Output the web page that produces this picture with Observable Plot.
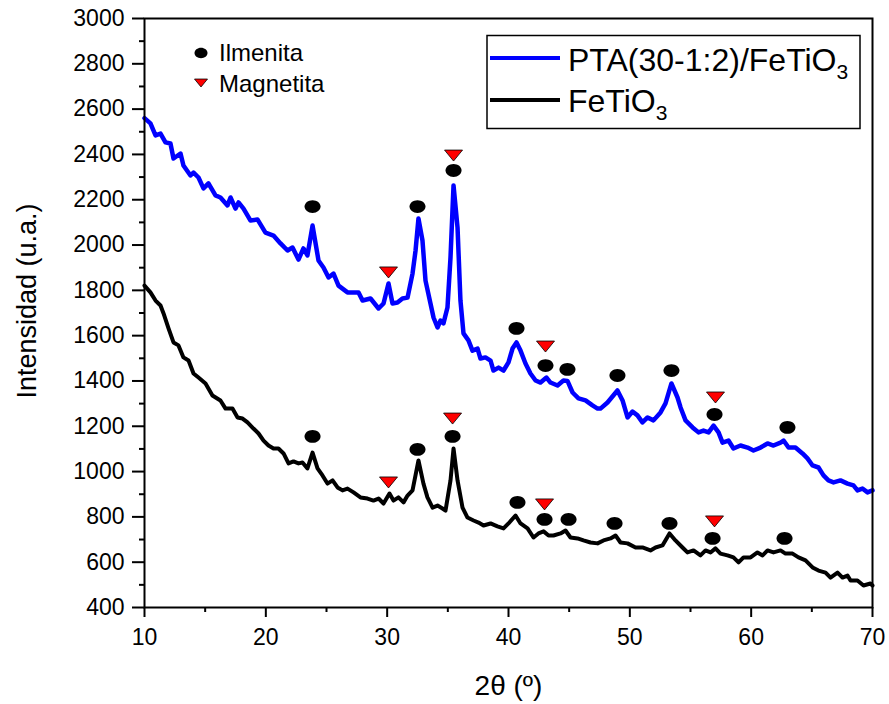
<!DOCTYPE html>
<html>
<head>
<meta charset="utf-8">
<script src="https://cdn.jsdelivr.net/npm/d3@7"></script>
<script src="https://cdn.jsdelivr.net/npm/@observablehq/plot@0.6"></script>
<style>
  html, body { margin: 0; padding: 0; background: #fff; }
  #wrap { position: relative; width: 889px; height: 704px; font-family: "Liberation Sans", Arial, sans-serif; }
  #legend { position: absolute; left: 0; top: 0; pointer-events: none; }
</style>
</head>
<body>
<div id="wrap"></div>
<script>
// ---- Data ----
const blueX = [10.0,10.49,10.91,11.32,11.73,12.14,12.39,12.97,13.21,13.79,14.04,14.45,14.86,15.27,15.85,16.26,16.84,17.09,17.50,17.75,18.16,18.74,19.31,19.97,20.63,21.21,21.79,22.20,22.69,23.10,23.43,23.85,24.34,24.75,25.17,25.58,25.99,26.73,27.64,27.97,28.63,29.29,29.70,30.11,30.44,30.85,31.26,31.68,32.09,32.34,32.58,32.91,33.16,33.57,33.82,34.15,34.40,34.64,34.97,35.22,35.47,35.80,36.04,36.29,36.70,37.03,37.45,37.69,38.10,38.52,38.76,39.18,39.59,40.00,40.33,40.66,40.99,41.40,41.81,42.23,42.64,43.13,43.46,44.04,44.53,44.86,45.28,45.77,46.35,46.92,47.34,47.58,48.16,48.98,49.40,49.81,50.22,50.63,51.04,51.46,51.95,52.53,52.94,53.43,53.93,54.18,54.59,55.17,55.66,56.07,56.49,56.90,57.31,57.64,58.13,58.54,59.12,59.70,60.19,60.77,61.35,61.84,62.42,62.67,63.08,63.65,64.23,64.64,65.06,65.55,65.96,66.37,66.79,67.36,67.94,68.43,68.76,69.17,69.59,70.0];
const blueY = [2560,2537,2484,2492,2453,2448,2382,2404,2351,2307,2320,2298,2250,2272,2219,2210,2175,2210,2161,2188,2161,2108,2113,2055,2042,2007,1976,1989,1936,1985,1954,2086,1932,1901,1857,1874,1821,1791,1791,1755,1764,1720,1742,1830,1742,1746,1764,1768,1874,1976,2117,2020,1843,1742,1680,1636,1667,1654,1724,1945,2263,2077,1755,1610,1579,1534,1543,1499,1504,1490,1446,1459,1446,1482,1543,1570,1534,1477,1433,1402,1393,1415,1393,1380,1402,1400,1349,1323,1314,1292,1278,1278,1305,1358,1314,1239,1265,1248,1217,1239,1226,1261,1301,1389,1327,1283,1226,1195,1173,1181,1173,1203,1173,1128,1137,1102,1115,1106,1093,1106,1124,1115,1128,1137,1106,1106,1080,1058,1027,1018,983,961,952,961,947,939,917,925,908,917];

const blackX = [10.0,10.49,10.91,11.32,11.57,11.98,12.39,12.80,13.21,13.63,14.04,14.45,15.03,15.60,16.26,16.68,17.25,17.67,18.08,18.49,18.98,19.40,19.81,20.22,20.63,21.04,21.46,21.87,22.28,22.69,23.02,23.43,23.85,24.26,24.67,25.08,25.50,25.91,26.32,26.73,27.23,27.80,28.38,28.87,29.29,29.70,30.19,30.52,30.93,31.35,31.68,32.09,32.58,32.99,33.32,33.74,34.15,34.56,34.81,35.22,35.47,35.80,36.21,36.62,37.12,37.53,37.94,38.52,39.09,39.59,40.00,40.58,40.99,41.57,42.06,42.47,42.89,43.30,43.71,44.29,44.70,45.11,45.69,46.18,46.76,47.34,47.83,48.41,48.82,49.23,49.81,50.47,51.04,51.70,52.12,52.69,53.27,53.76,54.34,54.75,55.25,55.82,56.24,56.65,57.06,57.47,58.05,58.54,58.96,59.37,59.95,60.52,60.94,61.35,61.84,62.42,62.83,63.41,63.90,64.48,65.06,65.55,66.13,66.54,67.12,67.53,67.94,68.19,68.76,69.26,69.83,70.0];
const blackY = [1821,1791,1755,1733,1698,1632,1570,1557,1504,1490,1433,1415,1389,1336,1314,1278,1278,1239,1234,1217,1190,1168,1137,1115,1102,1102,1080,1036,1045,1036,1040,1014,1084,1014,983,947,961,930,917,925,908,886,881,872,881,859,903,872,886,864,894,917,1049,947,886,841,850,837,828,961,1102,961,841,797,784,775,762,771,758,749,771,806,771,749,709,727,736,718,718,727,740,709,705,696,687,683,696,705,718,687,683,665,665,652,665,674,727,696,665,643,652,630,652,643,661,638,630,621,599,621,621,643,630,652,643,652,638,638,621,608,577,563,554,532,554,532,541,519,519,497,506,497];

// Phase markers (Ilmenita = ellipse, Magnetita = red down-triangle)
const ilmenitaX = [23.85,32.50,35.47,40.66,43.05,44.86,48.98,53.43,56.98,62.99, 23.85,32.50,35.39,40.74,42.97,44.95,48.74,53.27,56.82,62.75];
const ilmenitaY = [2170,2170,2329,1632,1468,1451,1424,1446,1252,1195, 1155,1098,1155,864,789,789,771,771,705,705];
const magnetitaX = [30.11,35.47,43.05,57.06, 30.11,35.39,42.97,56.98];
const magnetitaY = [1879,2395,1552,1327, 952,1234,855,780];

const yMajor = [400,600,800,1000,1200,1400,1600,1800,2000,2200,2400,2600,2800,3000];
const yMinor = [500,700,900,1100,1300,1500,1700,1900,2100,2300,2500,2700,2900];
const xMajor = [10,20,30,40,50,60,70];
const xMinor = [15,25,35,45,55,65];

const seriesNames = ["PTA(30-1:2)/FeTiO", "FeTiO"];
const seriesColors = ["#0000ff", "#000000"];
const phaseNames = ["Ilmenita", "Magnetita"];

// ---- Custom symbols ----
const ellipseSymbol = {
  draw(ctx, size) {
    const rx = Math.sqrt(size / Math.PI), ry = rx * 0.8, k = 0.5523;
    ctx.moveTo(rx, 0);
    ctx.bezierCurveTo(rx, ry * k, rx * k, ry, 0, ry);
    ctx.bezierCurveTo(-rx * k, ry, -rx, ry * k, -rx, 0);
    ctx.bezierCurveTo(-rx, -ry * k, -rx * k, -ry, 0, -ry);
    ctx.bezierCurveTo(rx * k, -ry, rx, -ry * k, rx, 0);
    ctx.closePath();
  }
};
const downTriangle = {
  draw(ctx, size) {
    const r = Math.sqrt(size / Math.PI), h = r * 1.22;
    ctx.moveTo(-r, -h / 2);
    ctx.lineTo(r, -h / 2);
    ctx.lineTo(0, h / 2);
    ctx.closePath();
  }
};

const blue = blueX.map((x, i) => ({x, y: blueY[i]}));
const black = blackX.map((x, i) => ({x, y: blackY[i]}));
const ilm = ilmenitaX.map((x, i) => ({x, y: ilmenitaY[i]}));
const mag = magnetitaX.map((x, i) => ({x, y: magnetitaY[i]}));

const chart = Plot.plot({
  width: 889,
  height: 704,
  marginLeft: 144,
  marginRight: 17,
  marginTop: 18,
  marginBottom: 97,
  x: {domain: [10, 70]},
  y: {domain: [400, 3000]},
  style: {fontFamily: "'Liberation Sans', Arial, sans-serif", fontSize: "23px", color: "#000", background: "#fff"},
  marks: [
    Plot.axisY({ticks: yMajor, tickSize: 12, tickPadding: 8, strokeWidth: 2, label: null, fontSize: 23, tickFormat: d => String(d)}),
    Plot.axisY({ticks: yMinor, tickSize: 5, strokeWidth: 2, tickFormat: () => "", label: null}),
    Plot.axisX({ticks: xMajor, tickSize: 10, tickPadding: 11, strokeWidth: 2, label: null, fontSize: 23, tickFormat: d => String(d)}),
    Plot.axisX({ticks: xMinor, tickSize: 5, strokeWidth: 2, tickFormat: () => "", label: null}),
    Plot.line(blue, {x: "x", y: "y", stroke: seriesColors[0], strokeWidth: 4.5, strokeLinejoin: "round"}),
    Plot.line(black, {x: "x", y: "y", stroke: seriesColors[1], strokeWidth: 4, strokeLinejoin: "round"}),
    Plot.dot(ilm, {x: "x", y: "y", r: 8, symbol: ellipseSymbol, fill: "#000", stroke: "none"}),
    Plot.dot(mag, {x: "x", y: "y", r: 9, symbol: downTriangle, fill: "#ff0000", stroke: "#000", strokeWidth: 0.8}),
    Plot.frame({stroke: "#000", strokeWidth: 2}),
    Plot.text(["Intensidad (u.a.)"], {frameAnchor: "left", textAnchor: "middle", dx: -117, dy: -12, rotate: -90, fontSize: 27, fill: "#000"}),
    Plot.text(["2θ (º)"], {frameAnchor: "bottom", textAnchor: "middle", dy: 87, fontSize: 28, fill: "#000"})
  ]
});

const wrap = document.getElementById("wrap");
wrap.appendChild(chart);

// ---- Legends overlay ----
const leg = d3.select(wrap).append("svg")
  .attr("id", "legend").attr("width", 889).attr("height", 704)
  .style("font-family", "'Liberation Sans', Arial, sans-serif");

// phase legend
const pl = leg.append("g");
pl.append("path").attr("d", (() => { const p = d3.path(); ellipseSymbol.draw(p, 6.5 * 6.5 * Math.PI); return p.toString(); })())
  .attr("transform", "translate(201,53)").attr("fill", "#000");
pl.append("path").attr("d", (() => { const p = d3.path(); downTriangle.draw(p, 6.5 * 6.5 * Math.PI); return p.toString(); })())
  .attr("transform", "translate(201,83)").attr("fill", "#ff0000").attr("stroke", "#000").attr("stroke-width", 0.8);
pl.append("text").attr("x", 219).attr("y", 61).attr("font-size", 24).text(phaseNames[0]);
pl.append("text").attr("x", 219).attr("y", 92).attr("font-size", 24).text(phaseNames[1]);

// series legend
const sl = leg.append("g");
sl.append("rect").attr("x", 487).attr("y", 35.5).attr("width", 373).attr("height", 93)
  .attr("fill", "none").attr("stroke", "#000").attr("stroke-width", 1.5);
const rows = [58, 100];
const baselines = [71, 112];
seriesNames.forEach((name, i) => {
  sl.append("line").attr("x1", 490).attr("x2", 560).attr("y1", rows[i]).attr("y2", rows[i])
    .attr("stroke", seriesColors[i]).attr("stroke-width", 4);
  const t = sl.append("text").attr("x", 568).attr("y", baselines[i]).attr("font-size", 32);
  t.append("tspan").text(name);
  t.append("tspan").attr("font-size", 21).attr("dy", 8).text("3");
});
</script>
</body>
</html>
